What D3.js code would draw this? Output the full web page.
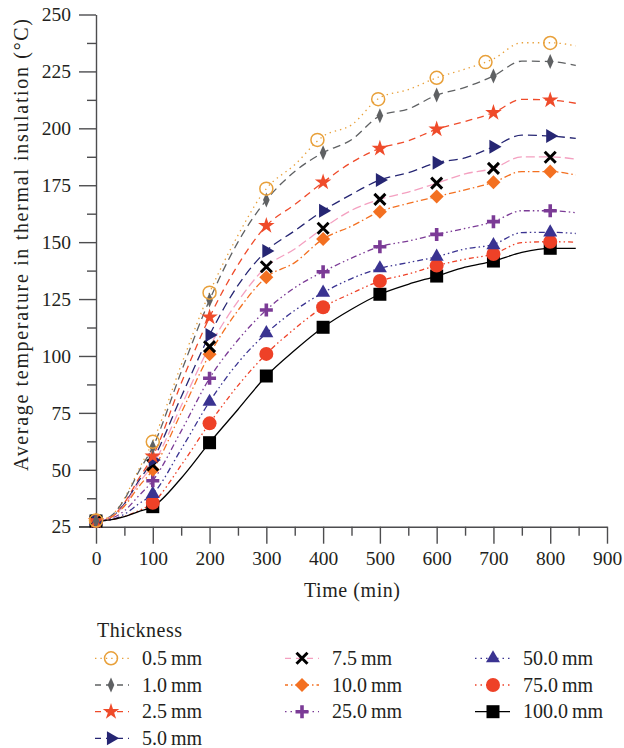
<!DOCTYPE html>
<html>
<head>
<meta charset="utf-8">
<script src="https://cdn.jsdelivr.net/npm/d3@7"></script>
<style>
  html, body { margin: 0; padding: 0; background: #fff; }
  svg { display: block; }
  text { font-family: "Liberation Serif", "DejaVu Serif", serif; fill: #231f20; }
</style>
</head>
<body>
<div id="chart"></div>
<script>
// Average temperature in the insulation layer vs. time, one curve per thickness.
const thicknessLabels = ["0.5\u2009mm", "1.0\u2009mm", "2.5\u2009mm", "5.0\u2009mm", "7.5\u2009mm",
                         "10.0\u2009mm", "25.0\u2009mm", "50.0\u2009mm", "75.0\u2009mm", "100.0\u2009mm"];

// Sampled curve times (min)
const lineTimes = [0, 25, 50, 75, 100, 150, 200, 250, 300, 350, 400, 450, 500, 550, 600, 650, 700, 750, 800, 845];

// Curve values (°C) at lineTimes
const line05  = [27.7, 29.5, 37.5, 50.0, 62.3, 96.0, 127.8, 153.0, 173.5, 184.0, 196.5, 201.5, 213.5, 217.0, 222.2, 226.0, 230.5, 237.6, 237.6, 236.2];
const line10  = [27.5, 29.5, 37.0, 49.0, 60.0, 93.0, 124.6, 150.0, 168.5, 181.0, 189.3, 195.0, 205.5, 208.5, 214.6, 218.0, 223.0, 229.5, 229.3, 227.6];
const line25  = [27.5, 29.0, 35.5, 46.0, 56.0, 88.0, 117.0, 140.0, 157.2, 166.5, 176.3, 185.0, 191.2, 194.5, 199.6, 203.0, 206.9, 212.7, 212.4, 211.0];
const line50  = [27.5, 29.0, 35.0, 45.0, 54.3, 82.0, 109.2, 131.0, 146.1, 155.0, 163.8, 171.0, 177.3, 180.5, 184.9, 187.0, 191.9, 197.0, 196.6, 195.6];
const line75  = [27.5, 29.0, 34.5, 44.0, 52.1, 78.0, 104.1, 124.0, 139.2, 147.0, 156.1, 164.0, 168.8, 172.0, 175.9, 180.0, 182.4, 187.5, 187.5, 186.4];
const line100 = [27.5, 29.0, 34.0, 42.5, 50.0, 75.0, 100.7, 120.0, 134.6, 141.0, 151.4, 157.0, 163.4, 167.0, 170.0, 173.0, 176.3, 181.0, 181.0, 179.5];
const line250 = [27.5, 28.5, 32.0, 38.5, 45.2, 67.0, 90.2, 107.0, 120.2, 130.0, 137.0, 143.0, 148.0, 150.5, 153.4, 156.0, 159.0, 163.8, 163.8, 162.9];
const line500 = [27.5, 28.0, 30.5, 35.0, 39.4, 59.0, 79.9, 97.0, 110.0, 120.0, 127.8, 134.0, 138.5, 141.0, 143.6, 147.0, 149.0, 154.2, 154.3, 153.8];
const line750 = [27.5, 28.0, 29.5, 32.0, 35.5, 52.0, 70.4, 87.0, 100.9, 112.0, 121.4, 127.5, 132.9, 136.0, 139.7, 142.5, 144.8, 149.8, 150.2, 150.0];
const line1000 = [27.5, 28.0, 29.4, 31.6, 33.8, 46.3, 61.9, 76.5, 91.2, 102.5, 112.6, 120.5, 127.1, 131.5, 135.1, 139.0, 141.7, 145.5, 147.3, 147.3];

// Marker times (min) and marker values (°C)
const markTimes   = [0, 100, 200, 300, 400, 500, 600, 700, 800];
const markTimes05 = [0, 100, 200, 300, 390, 497, 600, 686, 800];
const mark05  = [27.7, 62.3, 127.8, 173.5, 194.9, 212.8, 222.2, 229.1, 237.5];
const mark10  = [27.5, 60.0, 124.6, 168.5, 189.3, 205.5, 214.6, 223.0, 229.3];
const mark25  = [27.5, 56.0, 117.0, 157.2, 176.3, 191.2, 199.6, 206.9, 212.4];
const mark50  = [27.5, 54.3, 109.2, 146.1, 163.8, 177.3, 184.9, 191.9, 196.6];
const mark75  = [27.5, 52.1, 104.1, 139.2, 156.1, 168.8, 175.9, 182.4, 187.3];
const mark100 = [27.5, 50.0, 100.7, 134.6, 151.4, 163.4, 170.0, 176.3, 181.0];
const mark250 = [27.5, 45.2, 90.2, 120.2, 137.0, 148.0, 153.4, 159.0, 163.8];
const mark500 = [27.5, 39.4, 79.9, 110.0, 127.8, 138.5, 143.6, 148.7, 154.3];
const mark750 = [27.5, 35.5, 70.4, 100.9, 121.4, 132.9, 139.7, 144.8, 150.2];
const mark1000 = [27.5, 33.8, 61.9, 91.2, 112.6, 127.1, 135.1, 141.7, 147.3];

// Axis ticks
const xTicks = [0, 100, 200, 300, 400, 500, 600, 700, 800, 900];
const yTicks = [25, 50, 75, 100, 125, 150, 175, 200, 225, 250];
const xTitle = "Time (min)";
const yTitle = "Average temperature in thermal insulation (°C)";
const legendTitle = "Thickness";

const W = 624, H = 748;
const svg = d3.select("#chart").append("svg").attr("width", W).attr("height", H);

const x = d3.scaleLinear().domain([0, 900]).range([96, 607]);
const y = d3.scaleLinear().domain([25, 250]).range([526.7, 14.5]);

// Series styling
const styles = [
  { line: "#E8A03A", dash: "1.4 4",              mark: "openCircle", mcol: "#E8A03A" },
  { line: "#5f6163", dash: "8 5",                mark: "thinDiamond", mcol: "#5f6163" },
  { line: "#EF4B2A", dash: "7 5",                mark: "star",       mcol: "#EF4B2A" },
  { line: "#262673", dash: "9 5",                mark: "triRight",   mcol: "#262673" },
  { line: "#F4A0C0", dash: "9 4",                mark: "x",          mcol: "#000000" },
  { line: "#F37021", dash: "7 3 1.5 3",          mark: "diamond",    mcol: "#F37021" },
  { line: "#7B3B96", dash: "6 3 1.5 3 1.5 3",    mark: "plus",       mcol: "#7B3B96" },
  { line: "#3A3391", dash: "6 3 1.5 3 1.5 3",    mark: "triUp",      mcol: "#3A3391" },
  { line: "#EE4127", dash: "5 3 1.5 3 1.5 3",    mark: "circle",     mcol: "#EE4127" },
  { line: "#000000", dash: null,                 mark: "square",     mcol: "#000000" }
];
// Shorter dash patterns for the legend keys
const legendDash = ["1.4 4", "6 5", "6 5", "6 5", "6 5", "3 3 1.5 3", "1.5 4", "1.5 4", "1.5 4", null];

const lines = [line05, line10, line25, line50, line75, line100, line250, line500, line750, line1000];
const marks = [mark05, mark10, mark25, mark50, mark75, mark100, mark250, mark500, mark750, mark1000];
const mTimes = [markTimes05, markTimes, markTimes, markTimes, markTimes, markTimes, markTimes, markTimes, markTimes, markTimes];

// Draw a marker of a given kind into group g at (cx, cy)
function drawMarker(g, kind, col, cx, cy) {
  const t = `translate(${cx},${cy})`;
  switch (kind) {
    case "openCircle":
      g.append("circle").attr("cx", cx).attr("cy", cy).attr("r", 6.5)
        .attr("fill", "none").attr("stroke", col).attr("stroke-width", 1.5);
      break;
    case "circle":
      g.append("circle").attr("cx", cx).attr("cy", cy).attr("r", 7).attr("fill", col);
      break;
    case "square":
      g.append("path").attr("transform", t).attr("d", "M-6.5,-6.5H6.5V6.5H-6.5Z").attr("fill", col);
      break;
    case "thinDiamond":
      g.append("path").attr("transform", t).attr("d", "M0,-7.5L3.3,0L0,7.5L-3.3,0Z").attr("fill", col);
      break;
    case "diamond":
      g.append("path").attr("transform", t).attr("d", "M0,-7L7,0L0,7L-7,0Z").attr("fill", col);
      break;
    case "star":
      g.append("path").attr("transform", t).attr("d", d3.symbol(d3.symbolStar, 85)()).attr("fill", col);
      break;
    case "triUp":
      g.append("path").attr("transform", t).attr("d", d3.symbol(d3.symbolTriangle, 85)()).attr("fill", col);
      break;
    case "triRight":
      g.append("path").attr("transform", t + " rotate(90)").attr("d", d3.symbol(d3.symbolTriangle, 85)()).attr("fill", col);
      break;
    case "x":
      g.append("path").attr("transform", t).attr("d", "M-5.5,-5.5L5.5,5.5M-5.5,5.5L5.5,-5.5")
        .attr("stroke", col).attr("stroke-width", 3).attr("fill", "none");
      break;
    case "plus":
      g.append("path").attr("transform", t).attr("d", "M-6.5,0H6.5M0,-6.5V6.5")
        .attr("stroke", col).attr("stroke-width", 3.6).attr("fill", "none");
      break;
  }
}

// Axes
const axisColor = "#4d4d4f";
const yMinor = d3.range(25, 250.1, 12.5).filter(v => !yTicks.includes(v));
const xMinor = d3.range(0, 900.1, 50).filter(v => !xTicks.includes(v));

svg.append("g").attr("transform", "translate(96,0)")
  .call(d3.axisLeft(y).tickValues(yTicks).tickSize(17).tickSizeOuter(0).tickPadding(8).tickFormat(d3.format("d")));
svg.append("g").attr("transform", "translate(96,0)")
  .call(d3.axisLeft(y).tickValues(yMinor).tickSize(9).tickSizeOuter(0).tickFormat(""))
  .select(".domain").remove();

svg.append("g").attr("transform", "translate(0,526.7)")
  .call(d3.axisBottom(x).tickValues(xTicks).tickSize(17).tickSizeOuter(0).tickPadding(7).tickFormat(d3.format("d")));
svg.append("g").attr("transform", "translate(0,526.7)")
  .call(d3.axisBottom(x).tickValues(xMinor).tickSize(9).tickSizeOuter(0).tickFormat(""))
  .select(".domain").remove();

svg.selectAll(".domain, .tick line").attr("stroke", axisColor).attr("stroke-width", 1.4);
svg.selectAll(".tick text").attr("font-family", "Liberation Serif, DejaVu Serif, serif")
  .attr("font-size", 19.5).attr("fill", "#231f20");

// Extend the bottom axis line left to meet the 25 tick
svg.append("line").attr("x1", 79).attr("x2", 96).attr("y1", 526.7).attr("y2", 526.7)
  .attr("stroke", axisColor).attr("stroke-width", 1.4);

svg.append("text").attr("x", 352).attr("y", 597).attr("text-anchor", "middle")
  .attr("font-size", 20).attr("textLength", 96).attr("lengthAdjust", "spacing").text(xTitle);
svg.append("text").attr("transform", "translate(28,245) rotate(-90)").attr("text-anchor", "middle")
  .attr("font-size", 20).attr("textLength", 452).attr("lengthAdjust", "spacing").text(yTitle);

// Curves
const lineGen = d3.line().x(d => x(d[0])).y(d => y(d[1])).curve(d3.curveMonotoneX);
const plot = svg.append("g");
lines.forEach((vals, i) => {
  const pts = lineTimes.map((t, k) => [t, vals[k]]);
  plot.append("path").attr("d", lineGen(pts)).attr("fill", "none")
    .attr("stroke", styles[i].line).attr("stroke-width", 1.3)
    .attr("stroke-dasharray", styles[i].dash);
});

// Markers (thickest first so thin layers sit on top)
const mg = svg.append("g");
for (let i = marks.length - 1; i >= 0; i--) {
  marks[i].forEach((v, k) => drawMarker(mg, styles[i].mark, styles[i].mcol, x(mTimes[i][k]), y(v)));
}

// Legend
const lg = svg.append("g");
lg.append("text").attr("x", 97).attr("y", 637).attr("font-size", 20)
  .attr("textLength", 85).attr("lengthAdjust", "spacing").text(legendTitle);
const cols = [{ l0: 95, l1: 129, sx: 111, tx: 142 }, { l0: 285, l1: 319, sx: 302, tx: 332 }, { l0: 475, l1: 510, sx: 493, tx: 523 }];
const rowsY = [658.3, 685, 711.7, 738.3];
const placement = [[0,0],[0,1],[0,2],[0,3],[1,0],[1,1],[1,2],[2,0],[2,1],[2,2]];
thicknessLabels.forEach((lab, i) => {
  const c = cols[placement[i][0]], ry = rowsY[placement[i][1]];
  lg.append("line").attr("x1", c.l0).attr("x2", c.l1).attr("y1", ry).attr("y2", ry)
    .attr("stroke", styles[i].line).attr("stroke-width", 1.3)
    .attr("stroke-dasharray", legendDash[i]);
  drawMarker(lg, styles[i].mark, styles[i].mcol, c.sx, ry);
  lg.append("text").attr("x", c.tx).attr("y", ry + 6.5).attr("font-size", 20).text(lab);
});
</script>
</body>
</html>
